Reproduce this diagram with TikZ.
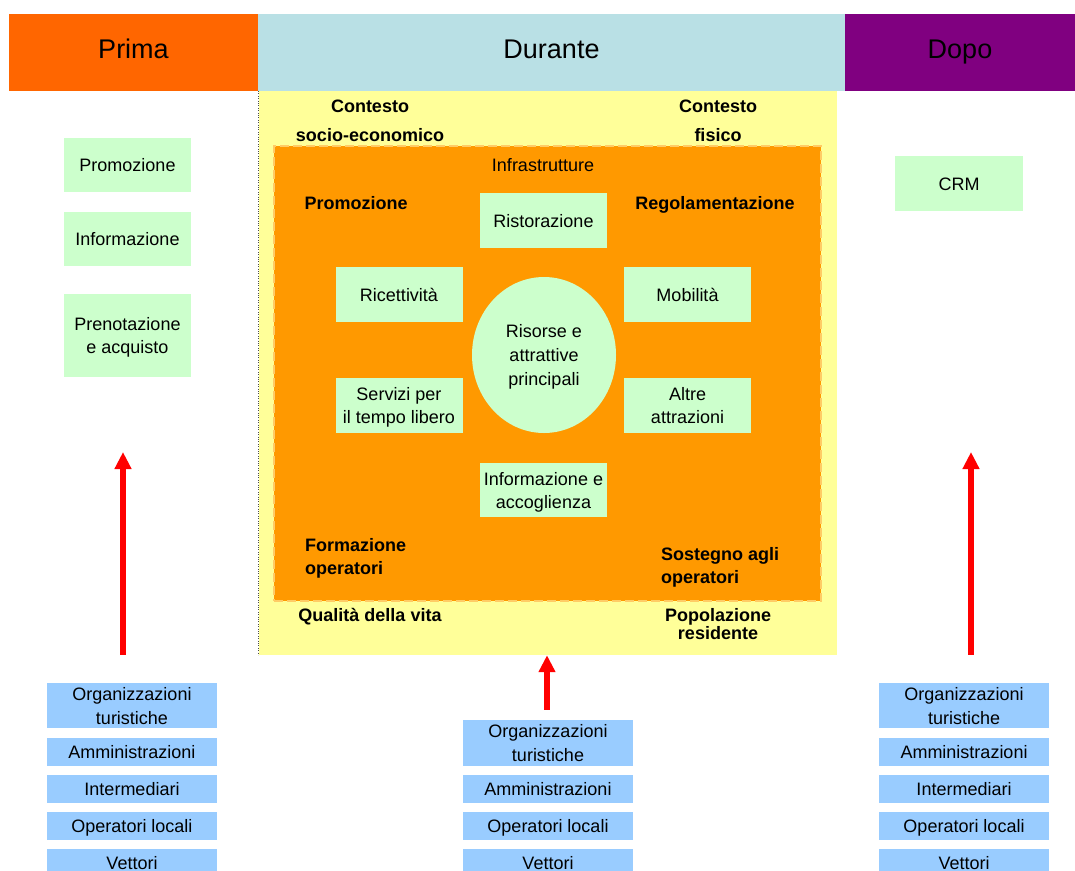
\documentclass[tikz,border=0pt]{standalone}
\usepackage{fontspec}
\setmainfont{Liberation Sans}
\usetikzlibrary{arrows.meta,positioning,calc,shapes.geometric}
\definecolor{prima}{HTML}{FF6600}
\definecolor{durante}{HTML}{B9E0E5}
\definecolor{dopo}{HTML}{800080}
\definecolor{sfondo}{HTML}{FFFF99}
\definecolor{arancio}{HTML}{FF9900}
\definecolor{bordo}{HTML}{FFCC66}
\definecolor{verde}{HTML}{CCFFCC}
\definecolor{azzurro}{HTML}{99CCFF}
\begin{document}
\begin{tikzpicture}[x=1pt,y=-1pt,font=\fontsize{18}{23}\selectfont,
  box/.style={inner sep=0pt,align=center,text height=13pt,text depth=0pt},
  two/.style={text height=36pt},
  head/.style={box,font=\fontsize{27}{30}\selectfont,minimum height=77pt,text height=20pt,text depth=8pt},
  greenbox/.style={box,fill=verde,minimum width=127pt,minimum height=55pt},
  bluebox/.style={box,fill=azzurro,minimum width=170pt,minimum height=28pt,font=\fontsize{18}{24}\selectfont},
  lbl/.style={box,font=\fontsize{18}{23}\selectfont\bfseries},
  freccia/.style={red,line width=5.5pt,-{Triangle[width=16pt,length=17pt]}}]
\clip (0,0) rectangle (1075,870);
\fill[white] (0,0) rectangle (1075,870);
% fasi
\node[head,fill=prima,minimum width=249pt] (prima) at (133.5,52.5) {Prima};
\node[head,fill=durante,minimum width=587pt] (durante) at (551.5,52.5) {Durante};
\node[head,fill=dopo,minimum width=230pt] (dopo) at (960,52.5) {Dopo};
% destinazione
\node[box,fill=sfondo,minimum width=578pt,minimum height=564pt] (zona) at (548,373) {};
\draw[black!70,dotted] (258,91)--(258,655);
\node[box,fill=arancio,draw=bordo,line width=2.5pt,dash pattern=on 9pt off 4pt,minimum width=547pt,minimum height=455pt] (nucleo) at (547.5,373.5) {};
\node[lbl] (ctxse1) at (370,106) {Contesto};
\node[lbl] (ctxse2) at (370,135) {socio-economico};
\node[lbl] (ctxf1) at (718,106) {Contesto};
\node[lbl] (ctxf2) at (718,135) {fisico};
\node[box] (infra) at (543,165) {Infrastrutture};
\node[lbl] (promoD) at (356,203) {Promozione};
\node[lbl] (regol) at (715,203) {Regolamentazione};
\node[lbl,two,align=left,anchor=west] (formaz) at (305,556) {Formazione\\operatori};
\node[lbl,two,align=left,anchor=west] (sostegno) at (661,565) {Sostegno agli\\operatori};
\node[lbl] (qualita) at (370,615) {Qualità della vita};
\node[lbl,font=\fontsize{18}{18}\selectfont\bfseries,text height=31pt] (popol) at (718,624) {Popolazione\\residente};
% offerta
\node[greenbox] (ristor) at (543.5,220.5) {Ristorazione};
\node[greenbox] (ricett) at (399,294.5) {Ricettività};
\node[greenbox] (mobil) at (687.5,294.5) {Mobilità};
\node[greenbox,two] (servizi) at (399,405.5) {Servizi per\\il tempo libero};
\node[greenbox,two] (altre) at (687.5,405.5) {Altre\\attrazioni};
\node[greenbox,two,minimum height=54pt] (infoacc) at (543.5,490) {Informazione e\\accoglienza};
\node[ellipse,fill=verde,inner sep=0pt,minimum width=144pt,minimum height=156pt,align=center,text height=61pt,text depth=0pt,font=\fontsize{18}{24}\selectfont] (risorse) at (544,355) {Risorse e\\attrattive\\principali};
% prima e dopo
\node[greenbox,minimum height=54pt] (promoP) at (127.5,165) {Promozione};
\node[greenbox,minimum height=54pt] (infoP) at (127.5,239) {Informazione};
\node[greenbox,two,minimum height=83pt] (prenot) at (127.5,335.5) {Prenotazione\\e acquisto};
\node[greenbox,minimum width=128pt] (crm) at (959,183.5) {CRM};
% attori
\foreach \n/\cx in {L/132,R/964}{
  \node[bluebox,minimum height=45pt,text height=37pt] (org\n) at (\cx,705.5) {Organizzazioni\\turistiche};
  \node[bluebox] (amm\n) at (\cx,752) {Amministrazioni};
  \node[bluebox] (inter\n) at (\cx,789) {Intermediari};
  \node[bluebox] (oper\n) at (\cx,826) {Operatori locali};
  \node[bluebox] (vett\n) at (\cx,863) {Vettori};
}
\node[bluebox,minimum height=46pt,text height=37pt] (orgC) at (548,743) {Organizzazioni\\turistiche};
\node[bluebox] (ammC) at (548,789) {Amministrazioni};
\node[bluebox] (operC) at (548,826) {Operatori locali};
\node[bluebox] (vettC) at (548,863) {Vettori};
% frecce
\coordinate (topL) at (123,452);
\coordinate (topR) at (971,452);
\draw[freccia,shorten <=28pt] (orgL.north -| topL) -- (topL);
\draw[freccia,shorten <=28pt] (orgR.north -| topR) -- (topR);
\draw[freccia,shorten <=10pt] ([xshift=-1pt]orgC.north) -- ([xshift=-1pt]orgC.north |- zona.south);
\end{tikzpicture}
\end{document}
